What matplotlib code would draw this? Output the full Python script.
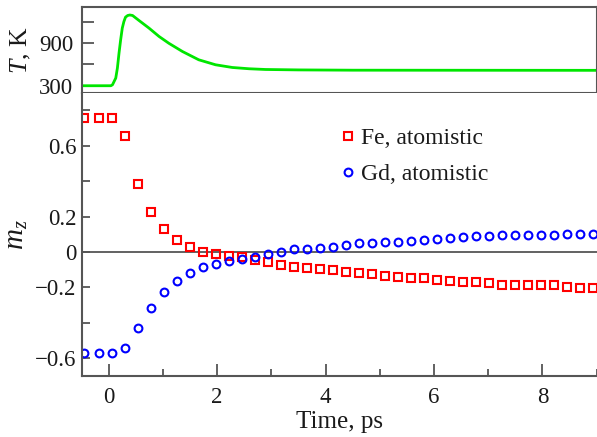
import numpy as np
import matplotlib.pyplot as plt

plt.rcParams['font.family'] = ['Liberation Serif', 'DejaVu Serif']
plt.rcParams['mathtext.fontset'] = 'custom'
plt.rcParams['mathtext.rm'] = 'Liberation Serif'
plt.rcParams['mathtext.it'] = 'Liberation Serif:italic'

# electron temperature after the pulse
t_temp = [-0.5, 0.04, 0.07, 0.13, 0.16, 0.19, 0.22, 0.25, 0.28, 0.31, 0.35, 0.39,
          0.44, 0.56, 0.74, 0.93, 1.11, 1.36, 1.66, 1.97, 2.28, 2.59, 2.89, 3.5,
          4.5, 9.0]
temp = [300, 300, 314, 408, 548, 758, 944, 1108, 1200, 1262, 1285, 1292,
        1285, 1214, 1110, 990, 895, 780, 664, 594, 556, 538, 528, 522,
        518, 516]

# sublattice magnetisation, atomistic model
t_mag = [-0.45, -0.18, 0.06, 0.30, 0.54, 0.78, 1.02, 1.26, 1.50, 1.74,
         1.98, 2.22, 2.46, 2.70, 2.94, 3.18, 3.42, 3.66, 3.90, 4.14,
         4.38, 4.62, 4.86, 5.10, 5.34, 5.58, 5.82, 6.06, 6.30, 6.54,
         6.78, 7.02, 7.26, 7.50, 7.74, 7.98, 8.22, 8.46, 8.70, 8.94]
mz_fe = [0.758, 0.758, 0.758, 0.652, 0.386, 0.226, 0.127, 0.066, 0.028, 0.002,
         -0.009, -0.021, -0.028, -0.045, -0.057, -0.072, -0.085, -0.089, -0.094, -0.100,
         -0.111, -0.119, -0.127, -0.134, -0.140, -0.145, -0.147, -0.157, -0.163, -0.168,
         -0.170, -0.176, -0.184, -0.184, -0.184, -0.184, -0.188, -0.195, -0.202, -0.205]
mz_gd = [-0.568, -0.568, -0.568, -0.543, -0.430, -0.316, -0.225, -0.165, -0.119, -0.087,
         -0.070, -0.051, -0.040, -0.026, -0.009, 0.000, 0.014, 0.019, 0.021, 0.028,
         0.042, 0.048, 0.053, 0.057, 0.059, 0.063, 0.068, 0.074, 0.078, 0.082,
         0.088, 0.091, 0.095, 0.095, 0.095, 0.095, 0.097, 0.099, 0.102, 0.102]

spine_col = '#555555'
text_col = '#1a1a1a'

fig = plt.figure(figsize=(5.97, 4.37), dpi=100)
ax_t = fig.add_axes([0.1367, 0.7883, 0.8628, 0.1950])
ax_m = fig.add_axes([0.1367, 0.1396, 0.8628, 0.6487])

# top panel: temperature
ax_t.plot(t_temp, temp, color='#00e600', lw=2.0)
ax_t.set_xlim(-0.5, 9.0)
ax_t.set_ylim(205, 1400)
ax_t.set_yticks([300, 600, 900, 1200])
ax_t.set_yticklabels(['300', '', '900', ''])
ax_t.set_xticks([])
ax_t.tick_params(axis='y', direction='in', length=8.5, width=1.3, color=spine_col,
                 labelsize=16.5, pad=6, labelcolor=text_col)
ax_t.set_ylabel('$T$, K', fontsize=18.5, color=text_col, labelpad=4)
for s in ax_t.spines.values():
    s.set_color(spine_col)
    s.set_linewidth(1.5)

# bottom panel: magnetisation
ax_m.axhline(0, color=spine_col, lw=1.3)
ax_m.plot(t_mag, mz_fe, ls='none', marker='s', ms=5.2, mew=1.5, mfc='none',
          mec='#ff0000', label='Fe, atomistic')
ax_m.plot(t_mag, mz_gd, ls='none', marker='o', ms=5.6, mew=1.5, mfc='none',
          mec='#0000ff', label='Gd, atomistic')
ax_m.set_xlim(-0.5, 9.0)
ax_m.set_ylim(-0.7, 0.9)
ax_m.set_yticks([-0.6, -0.4, -0.2, 0, 0.2, 0.4, 0.6, 0.8])
ax_m.set_yticklabels(['\u22120.6', '', '\u22120.2', '0', '0.2', '', '0.6', ''])
ax_m.set_xticks([0, 2, 4, 6, 8])
ax_m.set_xticks([1, 3, 5, 7, 9], minor=True)
ax_m.tick_params(axis='y', direction='in', length=6, width=1.3, color=spine_col,
                 labelsize=16.5, pad=3.5, labelcolor=text_col)
ax_m.tick_params(axis='x', which='major', direction='in', length=8.5, width=1.3,
                 color=spine_col, labelsize=16.5, pad=8, labelcolor=text_col)
ax_m.tick_params(axis='x', which='minor', direction='in', length=5, width=1.3,
                 color=spine_col)
ax_m.spines['top'].set_visible(False)
ax_m.spines['right'].set_visible(False)
for side in ('left', 'bottom'):
    ax_m.spines[side].set_color(spine_col)
    ax_m.spines[side].set_linewidth(1.5)
ax_m.set_xlabel('Time, ps', fontsize=18, color=text_col, labelpad=2)
ax_m.set_ylabel('$m_z$', fontsize=21, color=text_col, labelpad=4)

ax_m.legend(loc='upper left', bbox_to_anchor=(0.458, 0.95), frameon=False,
            fontsize=17, handlelength=0.8, handletextpad=0.15, labelspacing=0.6,
            labelcolor=text_col)

fig.savefig('out.png', dpi=100)
